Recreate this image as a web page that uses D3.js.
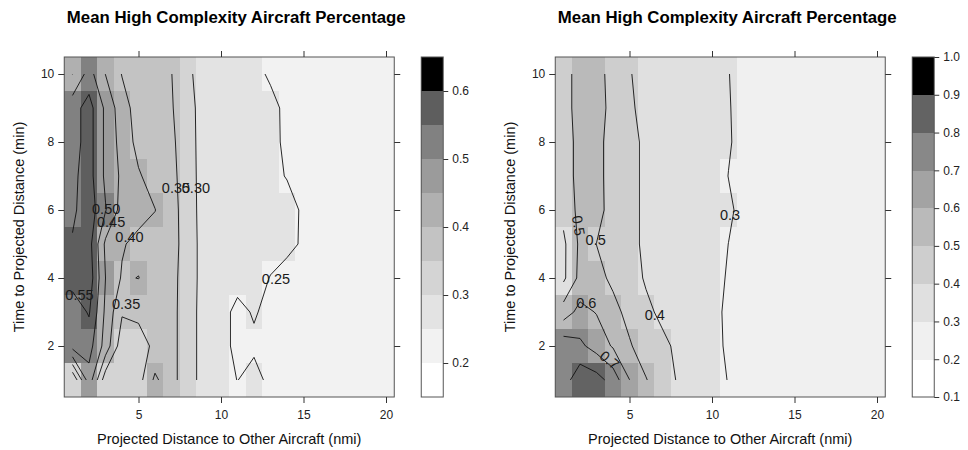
<!DOCTYPE html>
<html><head><meta charset="utf-8">
<script src="https://cdn.jsdelivr.net/npm/d3@7"></script>
<style>
body{margin:0;background:#fff}
svg{display:block}
text{font-family:"Liberation Sans",Arial,sans-serif;fill:#000}
</style></head>
<body><svg id="chart" width="968" height="450"></svg>
<script>
// ---------------- data ----------------
const distanceNmi = [1,2,3,4,5,6,7,8,9,10,11,12,13,14,15,16,17,18,19,20];
const timeMinTopDown = [10,9,8,7,6,5,4,3,2,1];
const xTickValues = [5,10,15,20];
const yTickValues = [2,4,6,8,10];

// left panel: rows follow timeMinTopDown, columns follow distanceNmi
const leftValues = [
 [.449,.52,.449,.398,.38,.37,.351,.308,.28,.275,.27,.26,.245,.235,.225,.22,.22,.22,.22,.22],
 [.53,.57,.49,.42,.38,.375,.354,.316,.28,.275,.27,.265,.26,.242,.23,.225,.22,.22,.22,.22],
 [.53,.57,.49,.43,.385,.375,.36,.318,.28,.275,.27,.265,.26,.243,.23,.225,.22,.22,.22,.22],
 [.54,.57,.49,.44,.405,.38,.365,.32,.28,.275,.27,.265,.26,.248,.23,.225,.22,.22,.22,.22],
 [.54,.58,.503,.43,.42,.401,.37,.322,.28,.275,.27,.265,.265,.265,.244,.225,.22,.22,.22,.22],
 [.555,.57,.44,.405,.385,.38,.37,.325,.28,.275,.27,.265,.26,.26,.245,.225,.22,.22,.22,.22],
 [.57,.58,.45,.395,.401,.38,.365,.325,.28,.275,.27,.26,.249,.235,.225,.22,.22,.22,.22,.22],
 [.52,.555,.44,.355,.36,.37,.365,.322,.28,.27,.235,.255,.235,.23,.225,.22,.22,.22,.22,.22],
 [.52,.52,.43,.32,.33,.36,.365,.322,.28,.27,.235,.24,.23,.225,.22,.22,.22,.22,.22,.22],
 [.30,.48,.32,.32,.33,.41,.365,.322,.28,.27,.249,.27,.235,.23,.225,.22,.22,.22,.22,.22]
];
const rightValues = [
 [.45,.55,.53,.47,.405,.37,.365,.355,.345,.33,.302,.27,.265,.26,.26,.26,.26,.26,.26,.26],
 [.45,.55,.54,.47,.41,.38,.365,.355,.345,.33,.305,.27,.265,.26,.26,.26,.26,.26,.26,.26],
 [.44,.54,.53,.46,.43,.38,.365,.355,.345,.33,.305,.28,.265,.26,.26,.26,.26,.26,.26,.26],
 [.44,.54,.53,.46,.43,.38,.365,.355,.345,.33,.299,.27,.265,.26,.26,.26,.26,.26,.26,.26],
 [.43,.53,.53,.465,.43,.38,.365,.355,.345,.33,.31,.28,.265,.26,.26,.26,.26,.26,.26,.26],
 [.38,.52,.499,.45,.43,.38,.365,.355,.345,.33,.2995,.27,.265,.26,.26,.26,.26,.26,.26,.26],
 [.38,.53,.53,.48,.44,.39,.365,.355,.345,.33,.292,.27,.265,.26,.26,.26,.26,.26,.26,.26],
 [.55,.63,.595,.53,.47,.42,.38,.36,.345,.33,.28,.265,.26,.26,.26,.26,.26,.26,.26,.26],
 [.76,.72,.66,.59,.51,.45,.42,.38,.35,.33,.285,.265,.26,.26,.26,.26,.26,.26,.26,.26],
 [.75,.87,.84,.76,.601,.505,.44,.39,.35,.33,.297,.265,.26,.26,.26,.26,.26,.26,.26,.26]
];

const leftBreaks  = [0.15,0.20,0.25,0.30,0.35,0.40,0.45,0.50,0.55,0.60,0.65];
const rightBreaks = [0.1,0.2,0.3,0.4,0.5,0.6,0.7,0.8,0.9,1.0];
const leftKeyTicks  = [0.2,0.3,0.4,0.5,0.6];
const rightKeyTicks = [0.1,0.2,0.3,0.4,0.5,0.6,0.7,0.8,0.9,1.0];

// contour label anchors (data units)
const leftContourLabels = [
 {level:0.50,x:3.04,y:6.05,angle:0},{level:0.45,x:3.34,y:5.66,angle:0},
 {level:0.40,x:4.45,y:5.21,angle:0},{level:0.55,x:1.42,y:3.5,angle:0},
 {level:0.35,x:4.25,y:3.23,angle:0},{level:0.35,x:7.27,y:6.64,angle:0},
 {level:0.30,x:8.48,y:6.64,angle:0},{level:0.25,x:13.33,y:3.99,angle:0}
];
const rightContourLabels = [
 {level:0.5,x:1.92,y:5.54,angle:80},{level:0.5,x:2.95,y:5.12,angle:0},
 {level:0.6,x:2.38,y:3.26,angle:0},{level:0.4,x:6.53,y:2.93,angle:0},
 {level:0.7,x:3.8,y:1.59,angle:40},{level:0.3,x:11.09,y:5.87,angle:0}
];

const titleText = "Mean High Complexity Aircraft Percentage";
const xTitle = "Projected Distance to Other Aircraft (nmi)";
const yTitle = "Time to Projected Distance (min)";

// ---------------- drawing ----------------
const svg = d3.select("#chart");
const TOP = 57, BOTTOM = 397, PW = 330;

function grayColors(n){ // R gray.colors(n, 0, 1) reversed: index 0 (lowest band) = white, last = black
  return d3.range(n).map(i=>{const v=Math.round(255*Math.pow(i/(n-1),1/2.2));return d3.rgb(v,v,v).formatHex();}).reverse();
}

function contourLines(rows, level){
  const ny=rows.length, nx=rows[0].length;
  const g=(j,i)=>rows[ny-1-j][i];
  const px=i=>distanceNmi[i], py=j=>timeMinTopDown[ny-1-j];
  const cross=(p1,v1,p2,v2)=>{
    if (p1[0]>p2[0]||p1[1]>p2[1]) {[p1,p2]=[p2,p1];[v1,v2]=[v2,v1];}
    const t=(level-v1)/(v2-v1);
    return [p1[0]+t*(p2[0]-p1[0]), p1[1]+t*(p2[1]-p1[1])];
  };
  const segs=[];
  for(let j=0;j<ny-1;j++)for(let i=0;i<nx-1;i++){
    const a=g(j,i),b=g(j,i+1),c=g(j+1,i+1),d=g(j+1,i);
    const A=[px(i),py(j)],B=[px(i+1),py(j)],C=[px(i+1),py(j+1)],D=[px(i),py(j+1)];
    const e=[null,null,null,null];
    if((a>=level)!==(b>=level)) e[0]=cross(A,a,B,b);
    if((b>=level)!==(c>=level)) e[1]=cross(B,b,C,c);
    if((c>=level)!==(d>=level)) e[2]=cross(C,c,D,d);
    if((d>=level)!==(a>=level)) e[3]=cross(D,d,A,a);
    const k=e.map((p,ix)=>p?ix:-1).filter(ix=>ix>=0);
    if(k.length===2) segs.push([e[k[0]],e[k[1]]]);
    else if(k.length===4){
      const ctr=(a+b+c+d)/4;
      if((ctr>=level)===(a>=level)){segs.push([e[0],e[1]]);segs.push([e[2],e[3]]);}
      else {segs.push([e[3],e[0]]);segs.push([e[1],e[2]]);}
    }
  }
  const key=p=>p[0].toFixed(6)+","+p[1].toFixed(6);
  const used=new Array(segs.length).fill(false);
  const byPt=new Map();
  segs.forEach((s,ix)=>s.forEach(p=>{const kk=key(p);if(!byPt.has(kk))byPt.set(kk,[]);byPt.get(kk).push(ix);}));
  const lines=[];
  const extend=(line,atEnd)=>{
    while(true){
      const p=atEnd?line[line.length-1]:line[0];
      const cand=(byPt.get(key(p))||[]).find(ix=>!used[ix]);
      if(cand===undefined)break;
      used[cand]=true;
      const s=segs[cand];
      const q=key(s[0])===key(p)?s[1]:s[0];
      if(atEnd)line.push(q);else line.unshift(q);
    }
  };
  segs.forEach((s,ix)=>{
    if(used[ix])return; used[ix]=true;
    const line=[s[0],s[1]]; extend(line,true); extend(line,false); lines.push(line);
  });
  return lines;
}

function panel(cfg){
  const x=d3.scaleLinear().domain([0.5,20.5]).range([cfg.x0,cfg.x0+PW]);
  const y=d3.scaleLinear().domain([0.5,10.5]).range([BOTTOM,TOP]);
  const nb=cfg.breaks.length-1;
  const colors=grayColors(nb);
  const colorOf=d3.scaleThreshold().domain(cfg.breaks.slice(1,-1)).range(colors);
  const g=svg.append("g");

  const cells=[];
  cfg.values.forEach((row,r)=>row.forEach((v,c)=>cells.push({x:distanceNmi[c],y:timeMinTopDown[r],v})));
  g.append("g").selectAll("rect").data(cells).join("rect")
    .attr("x",d=>x(d.x-0.5)).attr("y",d=>y(d.y+0.5))
    .attr("width",d=>x(d.x+0.5)-x(d.x-0.5)+0.4).attr("height",d=>y(d.y-0.5)-y(d.y+0.5)+0.4)
    .attr("fill",d=>colorOf(d.v)).attr("shape-rendering","crispEdges");

  const line=d3.line().x(p=>x(p[0])).y(p=>y(p[1]));
  const levels=cfg.breaks.slice(1,-1);
  const cg=g.append("g").attr("fill","none").attr("stroke","#111").attr("stroke-width",0.9).attr("stroke-linejoin","round");
  levels.forEach(L=>{contourLines(cfg.values,L).forEach(pl=>cg.append("path").attr("d",line(pl)));});

  g.append("g").selectAll("text").data(cfg.labels).join("text")
    .attr("transform",d=>`translate(${x(d.x)},${y(d.y)}) rotate(${d.angle})`)
    .attr("text-anchor","middle").attr("dy","0.36em")
    .style("font-size","14.5px").style("fill","#1a1a1a")
    .text(d=>d3.format(cfg.labelFmt)(d.level));

  g.append("rect").attr("x",x(0.5)).attr("y",TOP).attr("width",PW).attr("height",BOTTOM-TOP)
    .attr("fill","none").attr("stroke","#555").attr("stroke-width",1);

  const styleAxis=sel=>{sel.select(".domain").remove();sel.selectAll("line").attr("stroke","#333");
    sel.selectAll("text").style("font-size","12px").style("fill","#222");};
  g.append("g").attr("transform",`translate(0,${BOTTOM})`)
    .call(d3.axisBottom(x).tickValues(xTickValues).tickSize(6).tickPadding(7)).call(styleAxis);
  g.append("g").attr("transform",`translate(0,${TOP})`)
    .call(d3.axisTop(x).tickValues(xTickValues).tickSize(6).tickFormat("")).call(styleAxis);
  g.append("g").attr("transform",`translate(${x(0.5)},0)`)
    .call(d3.axisLeft(y).tickValues(yTickValues).tickSize(6).tickPadding(4)).call(styleAxis);
  g.append("g").attr("transform",`translate(${x(20.5)},0)`)
    .call(d3.axisRight(y).tickValues(yTickValues).tickSize(6).tickFormat("")).call(styleAxis);

  g.append("text").attr("x",cfg.x0+172).attr("y",23).attr("text-anchor","middle")
    .style("font-size","16.8px").style("font-weight","bold").text(titleText);
  g.append("text").attr("x",x(10.5)).attr("y",444).attr("text-anchor","middle")
    .style("font-size","14.5px").style("fill","#111").text(xTitle);
  g.append("text").attr("transform",`translate(${cfg.x0-40},${(TOP+BOTTOM)/2}) rotate(-90)`)
    .attr("text-anchor","middle").style("font-size","14.5px").style("fill","#111").text(yTitle);

  const kx=cfg.x0+357, kw=22;
  const ky=d3.scaleLinear().domain([cfg.breaks[0],cfg.breaks[nb]]).range([BOTTOM,TOP]);
  const bands=d3.range(nb).map(i=>({lo:cfg.breaks[i],hi:cfg.breaks[i+1],c:colors[i]}));
  g.append("g").selectAll("rect").data(bands).join("rect")
    .attr("x",kx).attr("y",d=>ky(d.hi)).attr("width",kw).attr("height",d=>ky(d.lo)-ky(d.hi)+0.3)
    .attr("fill",d=>d.c).attr("shape-rendering","crispEdges");
  g.append("rect").attr("x",kx).attr("y",TOP).attr("width",kw).attr("height",BOTTOM-TOP)
    .attr("fill","none").attr("stroke","#555");
  g.append("g").attr("transform",`translate(${kx+kw},0)`)
    .call(d3.axisRight(ky).tickValues(cfg.keyTicks).tickSize(5).tickPadding(4).tickFormat(d3.format(".1f")))
    .call(styleAxis);
}

panel({x0:64.25, values:leftValues, breaks:leftBreaks, keyTicks:leftKeyTicks, labels:leftContourLabels, labelFmt:".2f"});
panel({x0:555.25, values:rightValues, breaks:rightBreaks, keyTicks:rightKeyTicks, labels:rightContourLabels, labelFmt:".1f"});
</script></body></html>
